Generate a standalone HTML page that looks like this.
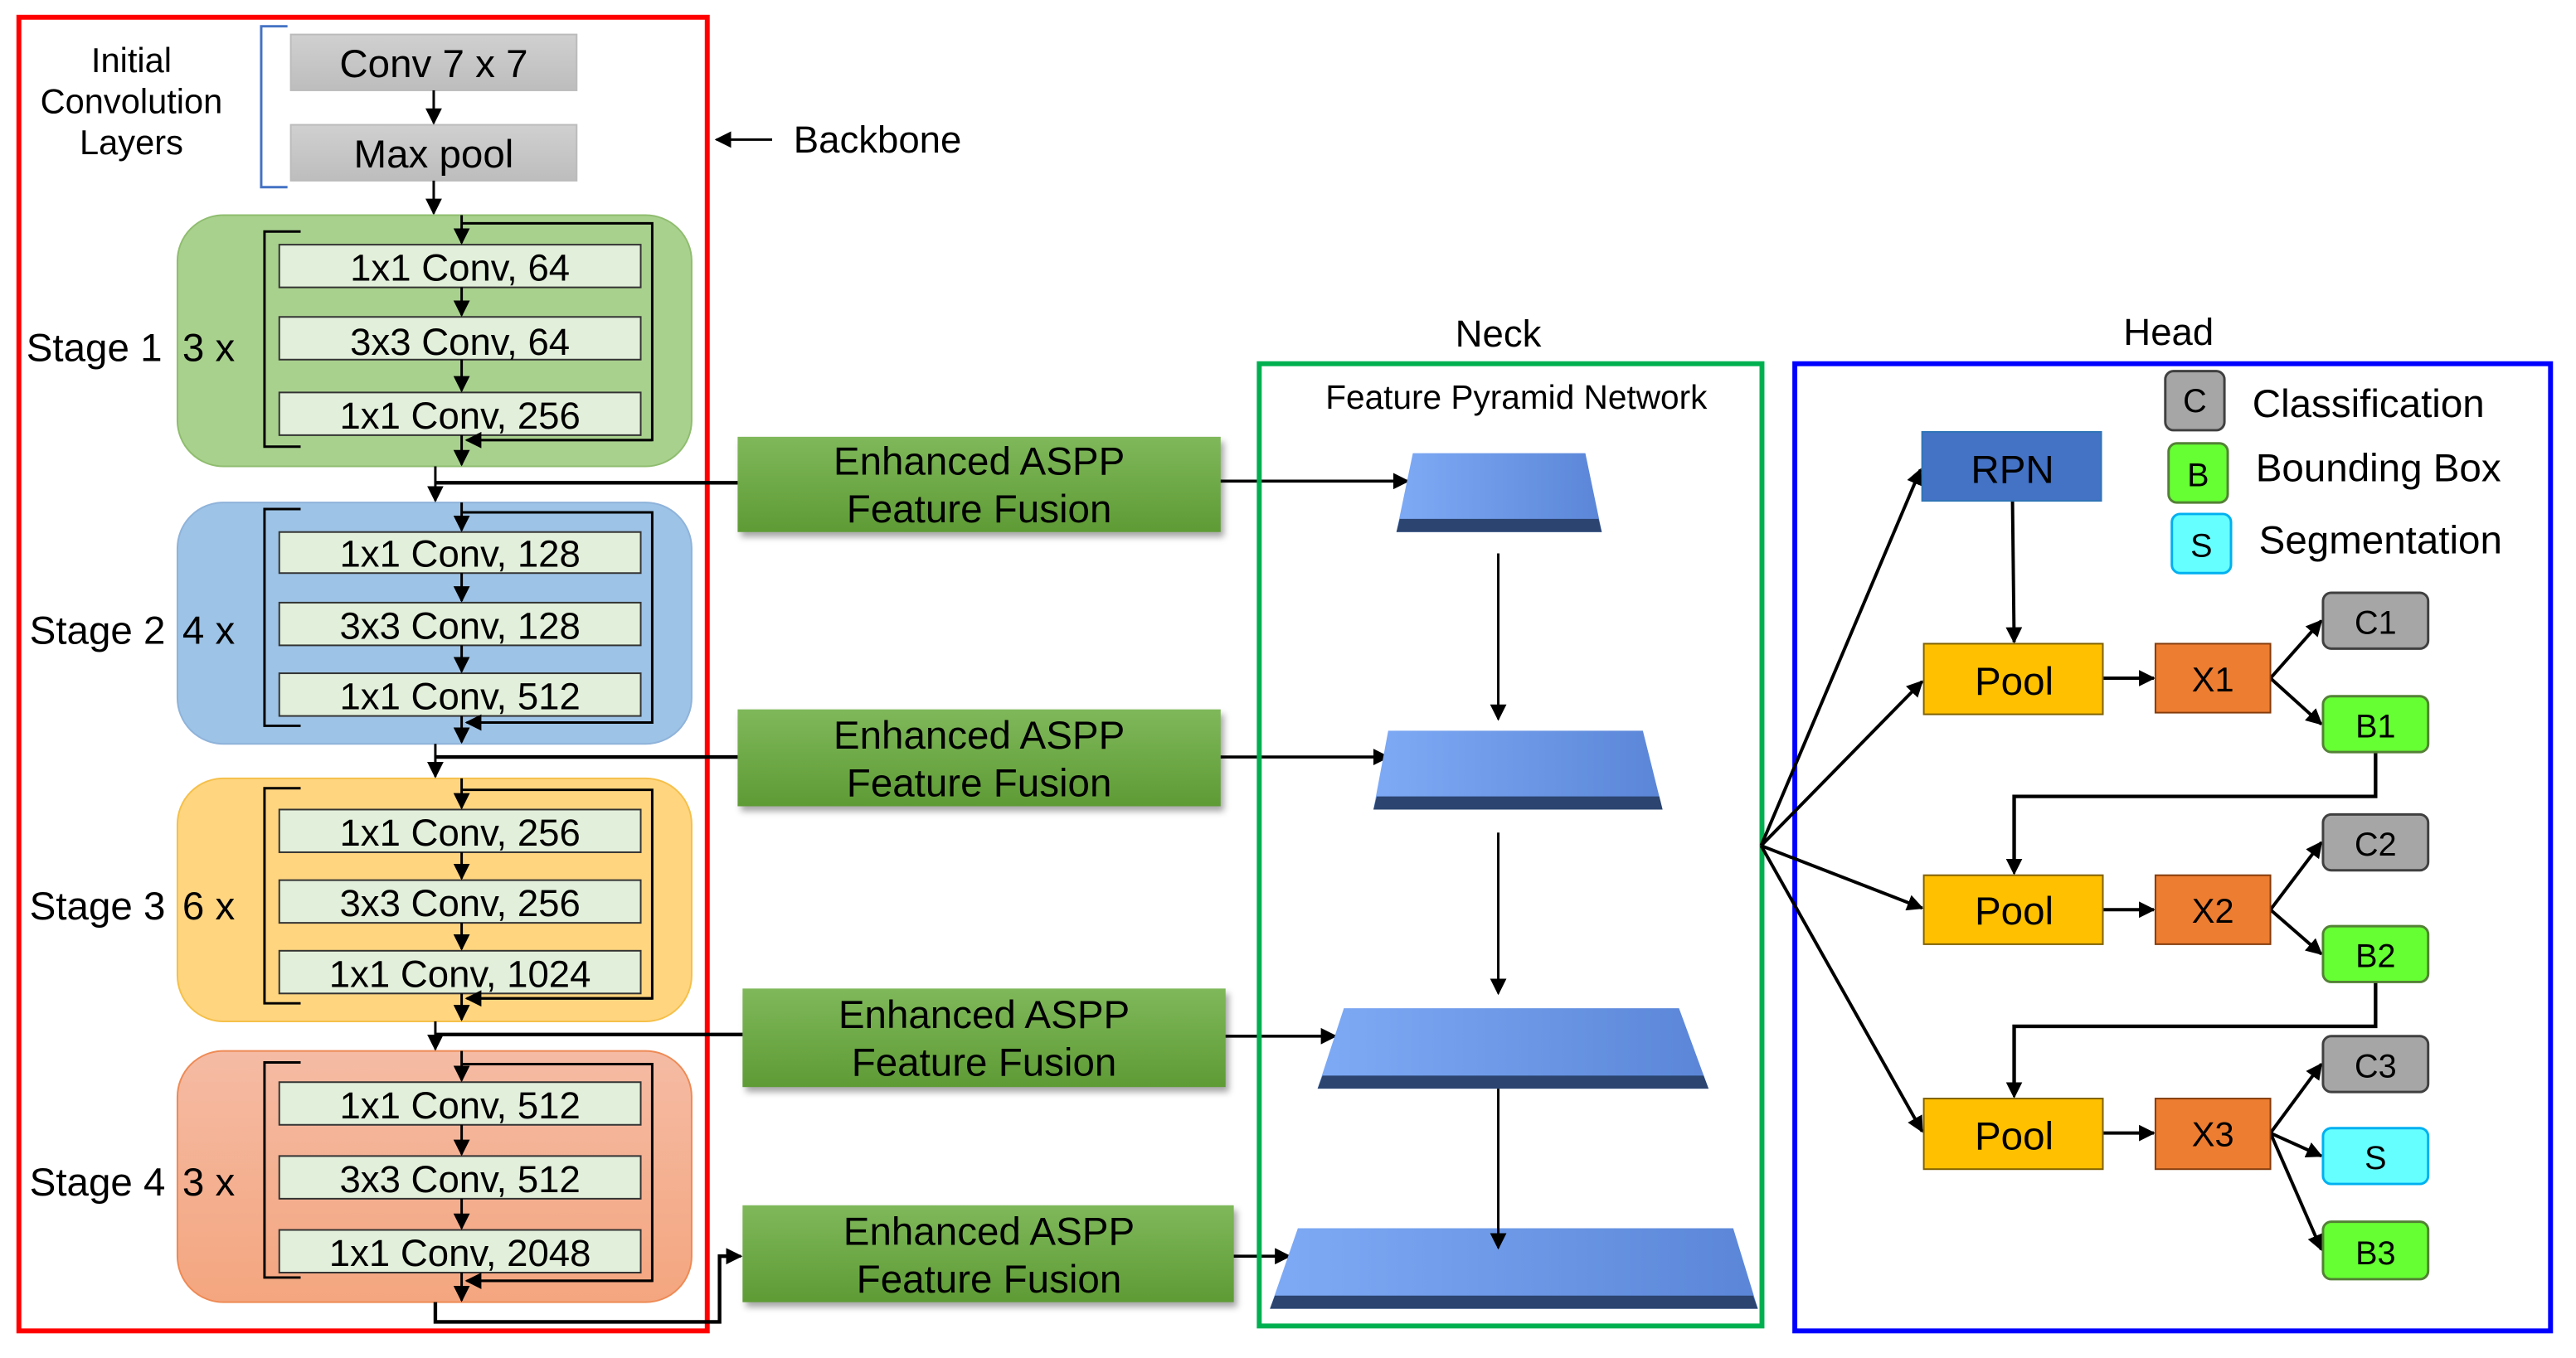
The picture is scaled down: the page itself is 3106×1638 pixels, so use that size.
<!DOCTYPE html>
<html><head><meta charset="utf-8"><style>
html,body{margin:0;padding:0;background:#fff;}
svg{display:block;}
text{font-family:"Liberation Sans Narrow","Liberation Sans",sans-serif;fill:#000;}
.a{font-family:"Liberation Sans",sans-serif;}
</style></head><body>
<svg width="3106" height="1638" viewBox="0 0 1568 827" preserveAspectRatio="none" xmlns="http://www.w3.org/2000/svg">
<defs>
<marker id="ar" markerWidth="10" markerHeight="10" refX="9" refY="5" orient="auto" markerUnits="userSpaceOnUse"><path d="M0,0 L10,5 L0,10 z" fill="#000"/></marker>
<linearGradient id="gray" x1="0" y1="0" x2="0" y2="1"><stop offset="0" stop-color="#d0d0d0"/><stop offset="1" stop-color="#bdbdbd"/></linearGradient>
<linearGradient id="grn" x1="0" y1="0" x2="0" y2="1"><stop offset="0" stop-color="#7fb85a"/><stop offset="1" stop-color="#5e9b35"/></linearGradient>
<linearGradient id="pyr" x1="0" y1="0" x2="1" y2="0"><stop offset="0" stop-color="#7eaaf5"/><stop offset="1" stop-color="#5b86d8"/></linearGradient>
<linearGradient id="s4" x1="0" y1="0" x2="0" y2="1"><stop offset="0" stop-color="#f5bba4"/><stop offset="1" stop-color="#f4a67f"/></linearGradient>
</defs>
<g font-size="21">
<rect x="11.5" y="10.5" width="419" height="800" fill="none" stroke="#f00" stroke-width="3"/>
<text x="80" y="44" text-anchor="middle" font-size="21">Initial</text>
<text x="80" y="69" text-anchor="middle" font-size="21">Convolution</text>
<text x="80" y="94" text-anchor="middle" font-size="21">Layers</text>
<path d="M175,16 H159 V114 H175" fill="none" stroke="#4472c4" stroke-width="1.5"/>
<rect x="177" y="21" width="174" height="34" fill="url(#gray)" stroke="#bbb"/>
<text x="264" y="47" text-anchor="middle" font-size="24">Conv 7 x 7</text>
<rect x="177" y="76" width="174" height="34" fill="url(#gray)" stroke="#bbb"/>
<text x="264" y="102" text-anchor="middle" font-size="24">Max pool</text>
<line x1="264" y1="55" x2="264" y2="75" stroke="#000" stroke-width="1.5" marker-end="url(#ar)"/>
<line x1="264" y1="110" x2="264" y2="130" stroke="#000" stroke-width="1.5" marker-end="url(#ar)"/>
<line x1="470" y1="85" x2="436" y2="85" stroke="#000" stroke-width="1.5" marker-end="url(#ar)"/>
<text x="483" y="93" class="a" font-size="23">Backbone</text>

<rect x="108" y="131" width="313" height="153" rx="28" fill="#a9d18e" stroke="#8fbd6f"/>
<rect x="108" y="306" width="313" height="147" rx="28" fill="#9dc3e6" stroke="#8fb3da"/>
<rect x="108" y="474" width="313" height="148" rx="28" fill="#ffd580" stroke="#f5c04a"/>
<rect x="108" y="640" width="313" height="153" rx="28" fill="url(#s4)" stroke="#ee8a55"/>

<g stroke="#000" stroke-width="1.5" fill="none">
<path d="M183,141 H161 V272 H183"/>
<path d="M183,310 H161 V442 H183"/>
<path d="M183,480 H161 V611 H183"/>
<path d="M183,647 H161 V778 H183"/>
<path d="M281,136 H397 V268 H286"/>
<path d="M281,312 H397 V440 H286"/>
<path d="M281,481 H397 V608 H286"/>
<path d="M281,648 H397 V780 H286"/>
</g>
<g fill="#e2efda" stroke="#333" stroke-width="1">
<rect x="170" y="149" width="220" height="26"/><rect x="170" y="193" width="220" height="26"/><rect x="170" y="239" width="220" height="26"/>
<rect x="170" y="324" width="220" height="25"/><rect x="170" y="367" width="220" height="26"/><rect x="170" y="410" width="220" height="26"/>
<rect x="170" y="493" width="220" height="26"/><rect x="170" y="536" width="220" height="26"/><rect x="170" y="579" width="220" height="26"/>
<rect x="170" y="659" width="220" height="26"/><rect x="170" y="704" width="220" height="26"/><rect x="170" y="749" width="220" height="26"/>
</g>
<g stroke="#000" stroke-width="1.5" marker-end="url(#ar)">
<line x1="281" y1="131" x2="281" y2="148"/><line x1="281" y1="175" x2="281" y2="192"/><line x1="281" y1="219" x2="281" y2="238"/><line x1="281" y1="265" x2="281" y2="283"/>
<line x1="281" y1="306" x2="281" y2="323"/><line x1="281" y1="349" x2="281" y2="366"/><line x1="281" y1="393" x2="281" y2="409"/><line x1="281" y1="436" x2="281" y2="452"/>
<line x1="281" y1="474" x2="281" y2="492"/><line x1="281" y1="519" x2="281" y2="535"/><line x1="281" y1="562" x2="281" y2="578"/><line x1="281" y1="605" x2="281" y2="621"/>
<line x1="281" y1="640" x2="281" y2="658"/><line x1="281" y1="685" x2="281" y2="703"/><line x1="281" y1="730" x2="281" y2="748"/><line x1="281" y1="775" x2="281" y2="792"/>
<line x1="397" y1="268" x2="284" y2="268"/><line x1="397" y1="440" x2="284" y2="440"/><line x1="397" y1="608" x2="284" y2="608"/><line x1="397" y1="780" x2="284" y2="780"/>
<line x1="265" y1="284" x2="265" y2="305"/><line x1="265" y1="453" x2="265" y2="473"/><line x1="265" y1="622" x2="265" y2="639"/>
</g>
<g font-size="23" text-anchor="middle">
<text x="280" y="171">1x1 Conv, 64</text><text x="280" y="216">3x3 Conv, 64</text><text x="280" y="261">1x1 Conv, 256</text>
<text x="280" y="345">1x1 Conv, 128</text><text x="280" y="389">3x3 Conv, 128</text><text x="280" y="432">1x1 Conv, 512</text>
<text x="280" y="515">1x1 Conv, 256</text><text x="280" y="558">3x3 Conv, 256</text><text x="280" y="601">1x1 Conv, 1024</text>
<text x="280" y="681">1x1 Conv, 512</text><text x="280" y="726">3x3 Conv, 512</text><text x="280" y="771">1x1 Conv, 2048</text>
</g>
<g font-size="24">
<text x="16" y="220">Stage 1</text><text x="111" y="220">3 x</text>
<text x="18" y="392">Stage 2</text><text x="111" y="392">4 x</text>
<text x="18" y="560">Stage 3</text><text x="111" y="560">6 x</text>
<text x="18" y="728">Stage 4</text><text x="111" y="728">3 x</text>
</g>

<g fill="url(#grn)" style="filter:drop-shadow(2px 3px 2px rgba(0,0,0,0.35))">
<rect x="449" y="266" width="294" height="58"/>
<rect x="449" y="432" width="294" height="59"/>
<rect x="452" y="602" width="294" height="60"/>
<rect x="452" y="734" width="299" height="59"/>
</g>
<g font-size="24" text-anchor="middle">
<text x="596" y="289">Enhanced ASPP</text><text x="596" y="318">Feature Fusion</text>
<text x="596" y="456">Enhanced ASPP</text><text x="596" y="485">Feature Fusion</text>
<text x="599" y="626">Enhanced ASPP</text><text x="599" y="655">Feature Fusion</text>
<text x="602" y="758">Enhanced ASPP</text><text x="602" y="787">Feature Fusion</text>
</g>
<g stroke="#000" stroke-width="2.2" fill="none">
<line x1="265" y1="294" x2="449" y2="294"/>
<line x1="265" y1="461" x2="449" y2="461"/>
<line x1="265" y1="630" x2="452" y2="630"/>
<path d="M265,793 V805 H438 V765 H445"/>
</g>
<g stroke="#000" stroke-width="1.8" marker-end="url(#ar)">
<line x1="743" y1="293" x2="857" y2="293"/>
<line x1="743" y1="461" x2="845" y2="461"/>
<line x1="746" y1="631" x2="813" y2="631"/>
<line x1="751" y1="765" x2="785" y2="765"/>
<line x1="444" y1="765" x2="451" y2="765"/>
</g>

<text x="912" y="211" text-anchor="middle" class="a" font-size="23">Neck</text>
<rect x="766.5" y="221.5" width="306" height="586" fill="none" stroke="#00b050" stroke-width="3"/>
<text x="923" y="249" text-anchor="middle" class="a" font-size="20.5">Feature Pyramid Network</text>
<g>
<polygon points="860,276 965,276 975,324 850,324" fill="url(#pyr)"/><polygon points="852,316 973,316 975,324 850,324" fill="#2b4470"/>
<polygon points="845,445 1000,445 1012,493 836,493" fill="url(#pyr)"/><polygon points="838,485 1010,485 1012,493 836,493" fill="#2b4470"/>
<polygon points="818,614 1022,614 1040,663 802,663" fill="url(#pyr)"/><polygon points="805,655 1037,655 1040,663 802,663" fill="#2b4470"/>
<polygon points="790,748 1055,748 1070,797 773,797" fill="url(#pyr)"/><polygon points="776,789 1067,789 1070,797 773,797" fill="#2b4470"/>
</g>
<g stroke="#000" stroke-width="1.5" marker-end="url(#ar)">
<line x1="912" y1="337" x2="912" y2="438"/>
<line x1="912" y1="507" x2="912" y2="605"/>
<line x1="912" y1="663" x2="912" y2="760"/>
</g>

<text x="1320" y="210" text-anchor="middle" class="a" font-size="23">Head</text>
<rect x="1092.5" y="221.5" width="460" height="589" fill="none" stroke="#00f" stroke-width="3"/>
<g stroke="#000" stroke-width="2" marker-end="url(#ar)">
<line x1="1072" y1="515" x2="1169" y2="286"/>
<line x1="1072" y1="515" x2="1170" y2="415"/>
<line x1="1072" y1="515" x2="1170" y2="553"/>
<line x1="1072" y1="515" x2="1170" y2="689"/>
<line x1="1225" y1="305" x2="1226" y2="391"/>
<line x1="1280" y1="413" x2="1311" y2="413"/>
<line x1="1280" y1="554" x2="1311" y2="554"/>
<line x1="1280" y1="690" x2="1311" y2="690"/>
<line x1="1382" y1="413" x2="1413" y2="378"/>
<line x1="1382" y1="413" x2="1413" y2="441"/>
<line x1="1382" y1="554" x2="1413" y2="513"/>
<line x1="1382" y1="554" x2="1413" y2="581"/>
<line x1="1382" y1="690" x2="1413" y2="648"/>
<line x1="1382" y1="690" x2="1413" y2="704"/>
<line x1="1382" y1="690" x2="1413" y2="761"/>
</g>
<g stroke="#000" stroke-width="2.2" fill="none">
<path d="M1446,458 V485 H1226 V526"/>
<path d="M1446,598 V625 H1226 V662"/>
</g>
<g stroke="#000" stroke-width="1.5" marker-end="url(#ar)">
<line x1="1226" y1="520" x2="1226" y2="532"/>
<line x1="1226" y1="656" x2="1226" y2="668"/>
</g>
<rect x="1170" y="263" width="109" height="42" fill="#4472c4" stroke="#2e75b6"/>
<g fill="#ffc000" stroke="#7f6000">
<rect x="1171" y="392" width="109" height="43"/><rect x="1171" y="533" width="109" height="42"/><rect x="1171" y="669" width="109" height="43"/>
</g>
<g fill="#ed7d31" stroke="#843c0c">
<rect x="1312" y="392" width="70" height="42"/><rect x="1312" y="533" width="70" height="42"/><rect x="1312" y="669" width="70" height="43"/>
</g>
<g stroke-width="1.5">
<rect x="1414" y="361" width="64" height="34" rx="5" fill="#a6a6a6" stroke="#404040"/>
<rect x="1414" y="424" width="64" height="34" rx="5" fill="#66ff33" stroke="#538135"/>
<rect x="1414" y="496" width="64" height="34" rx="5" fill="#a6a6a6" stroke="#404040"/>
<rect x="1414" y="564" width="64" height="34" rx="5" fill="#66ff33" stroke="#538135"/>
<rect x="1414" y="631" width="64" height="34" rx="5" fill="#a6a6a6" stroke="#404040"/>
<rect x="1414" y="687" width="64" height="34" rx="5" fill="#66ffff" stroke="#00b0f0"/>
<rect x="1414" y="744" width="64" height="35" rx="5" fill="#66ff33" stroke="#538135"/>
<rect x="1318" y="226" width="36" height="36" rx="5" fill="#a6a6a6" stroke="#404040"/>
<rect x="1320" y="270" width="36" height="36" rx="5" fill="#66ff33" stroke="#538135"/>
<rect x="1322" y="313" width="36" height="36" rx="5" fill="#66ffff" stroke="#00b0f0"/>
</g>
<g text-anchor="middle">
<text x="1225" y="294" class="a" font-size="24">RPN</text>
<text x="1226" y="423" class="a" font-size="24">Pool</text><text x="1226" y="563" class="a" font-size="24">Pool</text><text x="1226" y="700" class="a" font-size="24">Pool</text>
<text x="1347" y="421" class="a" font-size="21">X1</text><text x="1347" y="562" class="a" font-size="21">X2</text><text x="1347" y="698" class="a" font-size="21">X3</text>
<text x="1446" y="386" class="a" font-size="20">C1</text><text x="1446" y="449" class="a" font-size="20">B1</text>
<text x="1446" y="521" class="a" font-size="20">C2</text><text x="1446" y="589" class="a" font-size="20">B2</text>
<text x="1446" y="656" class="a" font-size="20">C3</text><text x="1446" y="712" class="a" font-size="20">S</text>
<text x="1446" y="770" class="a" font-size="20">B3</text>
<text x="1336" y="251" class="a" font-size="20">C</text><text x="1338" y="296" class="a" font-size="20">B</text><text x="1340" y="339" class="a" font-size="20">S</text>
</g>
<g>
<text x="1371" y="254" class="a" font-size="24">Classification</text>
<text x="1373" y="293" class="a" font-size="24">Bounding Box</text>
<text x="1375" y="337" class="a" font-size="24">Segmentation</text>
</g>
</g>
</svg>
</body></html>
